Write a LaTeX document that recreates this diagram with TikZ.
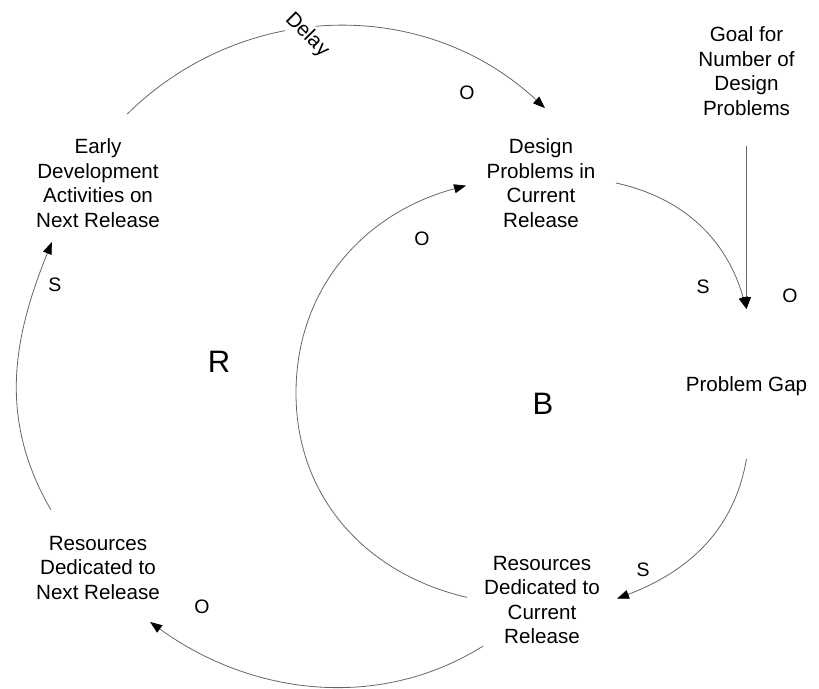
\documentclass[tikz,border=0pt]{standalone}
\usepackage{fontspec}
\setmainfont{Liberation Sans}
\usetikzlibrary{arrows.meta}
\begin{document}
\begin{tikzpicture}[x=1pt,y=1pt,
  var/.style={circle, minimum size=150pt, inner sep=0pt, outer sep=0pt},
  txt/.style={align=center, font=\fontsize{20.6}{24.5}\selectfont, inner sep=0pt},
  link/.style={draw=black!60, line width=0.8pt, -{Triangle[length=12pt,width=9pt,color=black]}},
  pol/.style={font=\fontsize{19.5}{22}\selectfont},
  loopname/.style={font=\fontsize{31}{36}\selectfont}]
\useasboundingbox (0,0) rectangle (819,-688);
% variables
\node[var, label={[txt]center:Early\\Development\\Activities on\\Next Release}] (E) at (98,-183) {};
\node[var, label={[txt]center:Design\\Problems in\\Current\\Release}] (D) at (541,-183) {};
\node[var, label={[txt]center:Goal for\\Number of\\Design\\Problems}] (G) at (746.5,-71) {};
\node[var, label={[txt,yshift=-2pt]center:Problem Gap}] (P) at (746.5,-384) {};
\node[var, label={[txt]center:Resources\\Dedicated to\\Current\\Release}] (C) at (542,-600) {};
\node[var, label={[txt]center:Resources\\Dedicated to\\Next Release}] (N) at (98,-568) {};
\coordinate (bl) at (296,-393);
% links
\draw[link] (E.67) to[out=44.5,in=137] (D.87);
\node[txt, rotate=-45, fill=white, inner sep=2.5pt] (delay) at (307,-35) {Delay};
\draw[link] (D.0) to[out=-12.5,in=106] (P.90);
\draw[link] (G.270) -- (P.90);
\draw[link] (P.270) to[out=260,in=21] (C.1);
\draw[link] (C.178) to[out=167,in=-90] (bl) to[out=90,in=195] (D.182);
\draw[link] (C.218) to[out=212,in=-36,looseness=0.95] (N.314);
\draw[link] (N.129) to[out=120,in=248] (E.232);
% polarities
\node[pol] (p1) at (467,-93) {O};
\node[pol] (p2) at (422,-239) {O};
\node[pol] (p3) at (703,-287) {S};
\node[pol] (p4) at (790,-296) {O};
\node[pol] (p5) at (55,-285) {S};
\node[pol] (p6) at (643,-570) {S};
\node[pol] (p7) at (202,-607) {O};
% loop identifiers
\node[loopname] (R) at (219,-362) {R};
\node[loopname] (B) at (543,-404) {B};
\end{tikzpicture}
\end{document}
